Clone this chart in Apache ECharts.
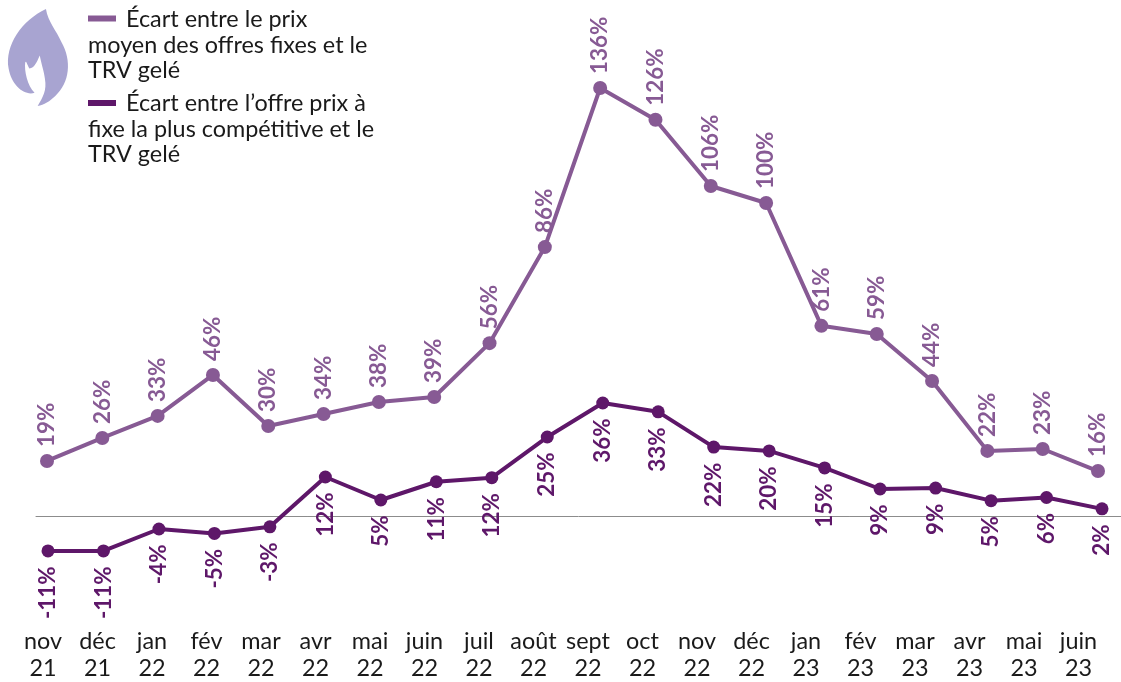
<!DOCTYPE html>
<html><head><meta charset="utf-8">
<style>html,body{margin:0;padding:0;background:#fff}#c{width:1121px;height:682px}</style>
<script src="https://cdn.jsdelivr.net/npm/echarts@6/dist/echarts.min.js"></script>
</head><body><div id="c"></div>
<script>
const months = ['nov\n21','déc\n21','jan\n22','fév\n22','mar\n22','avr\n22','mai\n22','juin\n22','juil\n22','août\n22','sept\n22','oct\n22','nov\n22','déc\n22','jan\n23','fév\n23','mar\n23','avr\n23','mai\n23','juin\n23'];
const moyenValues = [17.6,24.9,31.9,44.9,28.7,32.5,36.3,37.9,55,85.5,136,125.9,104.9,99.5,60.5,57.9,43,20.8,21.4,14.4];
const moyenLabels = [19,26,33,46,30,34,38,39,56,86,136,126,106,100,61,59,44,22,23,16];
const compValues = [-10.95,-10.95,-4,-5.4,-3.3,12.5,5.2,11,12.3,25.2,36,33.2,22,20.8,15.4,8.7,9,5,6,2.4];
const compLabels = [-11,-11,-4,-5,-3,12,5,11,12,25,36,33,22,20,15,9,9,5,6,2];
const moyenColor = '#875a94', compColor = '#5e1769';
const moyenName = 'Écart entre le prix moyen des offres fixes et le TRV gelé';
const compName = 'Écart entre l’offre prix à fixe la plus compétitive et le TRV gelé';
const legendMoyen = ['Écart entre le prix','moyen des offres fixes et le','TRV gelé'];
const legendComp = ['Écart entre l’offre prix à','fixe la plus compétitive et le','TRV gelé'];
const FONT = 'Lato';

const plotTop = 88, pxPerUnit = 3.15, yMax = 136, yMin = -12;
const plotHeight = (yMax - yMin) * pxPerUnit;
const yAxisBase = {type:'value', min:yMin, max:yMax, show:false, splitLine:{show:false}};

function legendText(lines, x0, y0) {
  return lines.map((t,i)=>({type:'text', left:i===0?x0+38:x0, top:y0+i*25.5,
    style:{text:t, font:'400 23.4px '+FONT, fill:'#1a1a1a'}}));
}
const flame = 'M45 9 C47 22 55 30 60 42 C70 60 68 82 54 95 C49 100 43 104 37 105 C42 96 46 90 44 78 C43 70 41 65 39 55 C36 62 34 67 29 68 C26 62 26 60 25 62 C24 70 27 85 34 92 C24 95 12 85 9 68 C5 45 22 20 45 9 Z';

const chart = echarts.init(document.getElementById('c'), null, {renderer:'canvas'});
chart.setOption({
  animation:false,
  backgroundColor:'#fff',
  grid:[
    {left:47, width:1051, top:plotTop, height:plotHeight},
    {left:48, width:1054, top:plotTop, height:plotHeight},
    {left:15.75, width:1090, top:plotTop, height:plotHeight},
    {left:36, right:0, top:plotTop, height:plotHeight}
  ],
  xAxis:[
    {type:'category', gridIndex:0, data:months, boundaryGap:false, show:false},
    {type:'category', gridIndex:1, data:months, boundaryGap:false, show:false},
    {type:'category', gridIndex:2, data:months, boundaryGap:true, position:'bottom',
      axisLine:{show:false}, axisTick:{show:false}, splitLine:{show:false},
      axisLabel:{show:true, interval:0, color:'#1a1a1a', fontFamily:FONT, fontSize:23.4, lineHeight:27, margin:80, hideOverlap:false}},
    {type:'value', gridIndex:3, min:0, max:1, axisLabel:{show:false}, axisTick:{show:false}, splitLine:{show:false},
      axisLine:{show:true, onZero:true, lineStyle:{color:'#8c8c8c', width:1}}}
  ],
  yAxis:[0,1,2,3].map(i=>Object.assign({gridIndex:i}, yAxisBase)),
  series:[
    {name:moyenName, type:'line', xAxisIndex:0, yAxisIndex:0, data:moyenValues, symbol:'circle', symbolSize:14,
      lineStyle:{color:moyenColor, width:4}, itemStyle:{color:moyenColor},
      label:{show:true, position:'top', rotate:90, distance:9, align:'left', verticalAlign:'middle',
        offset:[-2,0], color:moyenColor, fontFamily:FONT, fontWeight:700, fontSize:22.4,
        formatter:p=>moyenLabels[p.dataIndex]+'%'}},
    {name:compName, type:'line', xAxisIndex:1, yAxisIndex:1, data:compValues, symbol:'circle', symbolSize:13,
      lineStyle:{color:compColor, width:4}, itemStyle:{color:compColor},
      label:{show:true, position:'bottom', rotate:90, distance:9, align:'right', verticalAlign:'middle',
        offset:[0,0], color:compColor, fontFamily:FONT, fontWeight:700, fontSize:22.4,
        formatter:p=>compLabels[p.dataIndex]+'%'}},
    {type:'custom', coordinateSystem:'none', silent:true, data:[0], renderItem:()=>({
      type:'path', shape:{pathData:flame, x:8, y:9, width:60, height:97, layout:'cover'}, style:{fill:'#a8a4d1'}})}
  ],
  graphic:[
    {type:'rect', left:88, top:15.5, shape:{width:28,height:6}, style:{fill:moyenColor}},
    {type:'rect', left:88, top:100, shape:{width:28,height:6}, style:{fill:compColor}},
    ...legendText(legendMoyen, 88, 8),
    ...legendText(legendComp, 88, 92)
  ]
});
</script></body></html>
